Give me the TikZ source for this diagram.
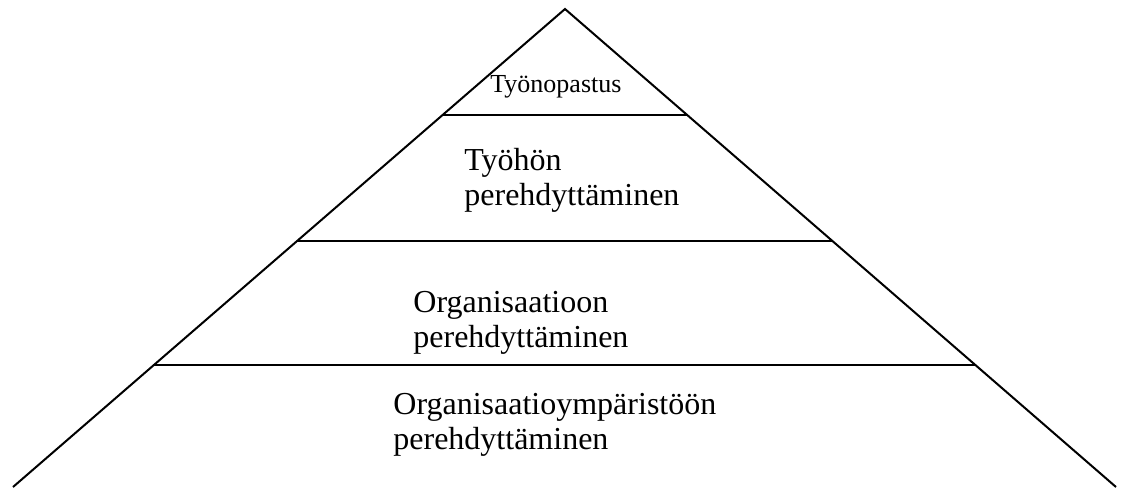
\documentclass[tikz,border=0pt]{standalone}
\usepackage{fontspec}
\setmainfont{Liberation Serif}
\usetikzlibrary{calc}
\tikzset{
  % Outline of the pyramid.
  pyramid-side/.style={draw=black, line width=1pt, line join=miter},
  % Horizontal dividers between the levels.
  level-line/.style={draw=black, line width=1.4pt},
  % Level labels, left aligned, last baseline at the anchor.
  level-label/.style={
    anchor=base west, inner sep=0pt, align=left,
    font=\fontsize{16}{17.2}\selectfont, text=black,
  },
  level-label-small/.style={level-label, font=\fontsize{13}{15}\selectfont},
}

\begin{document}
\begin{tikzpicture}[x=0.5pt, y=-0.5pt]

  % Canvas, same proportions as the page.
  \useasboundingbox (0, 0) rectangle (1125, 488);

  % Corners of the pyramid.
  \coordinate (apex)  at (565, 9);
  \coordinate (baseL) at (13, 487);
  \coordinate (baseR) at (1116, 487);

  % Sides.
  \draw[pyramid-side] (baseL) -- (apex) -- (baseR);

  % Level dividers, cut on the sides.
  \coordinate (l1L) at ($(apex)!0.2218!(baseL)$);
  \coordinate (l1R) at ($(apex)!0.2218!(baseR)$);
  \coordinate (l2L) at ($(apex)!0.4854!(baseL)$);
  \coordinate (l2R) at ($(apex)!0.4854!(baseR)$);
  \coordinate (l3L) at ($(apex)!0.7448!(baseL)$);
  \coordinate (l3R) at ($(apex)!0.7448!(baseR)$);
  \draw[level-line] (l1L) -- (l1R);
  \draw[level-line] (l2L) -- (l2R);
  \draw[level-line] (l3L) -- (l3R);

  % Labels, top to bottom.
  \node[level-label-small] (opastus) at (490, 92) {Työnopastus};
  \node[level-label] (tyo) at (464, 205) {Työhön\\perehdyttäminen};
  \node[level-label] (org) at (413, 347) {Organisaatioon\\perehdyttäminen};
  \node[level-label] (ymp) at (393, 449) {Organisaatioympäristöön\\perehdyttäminen};

\end{tikzpicture}
\end{document}
